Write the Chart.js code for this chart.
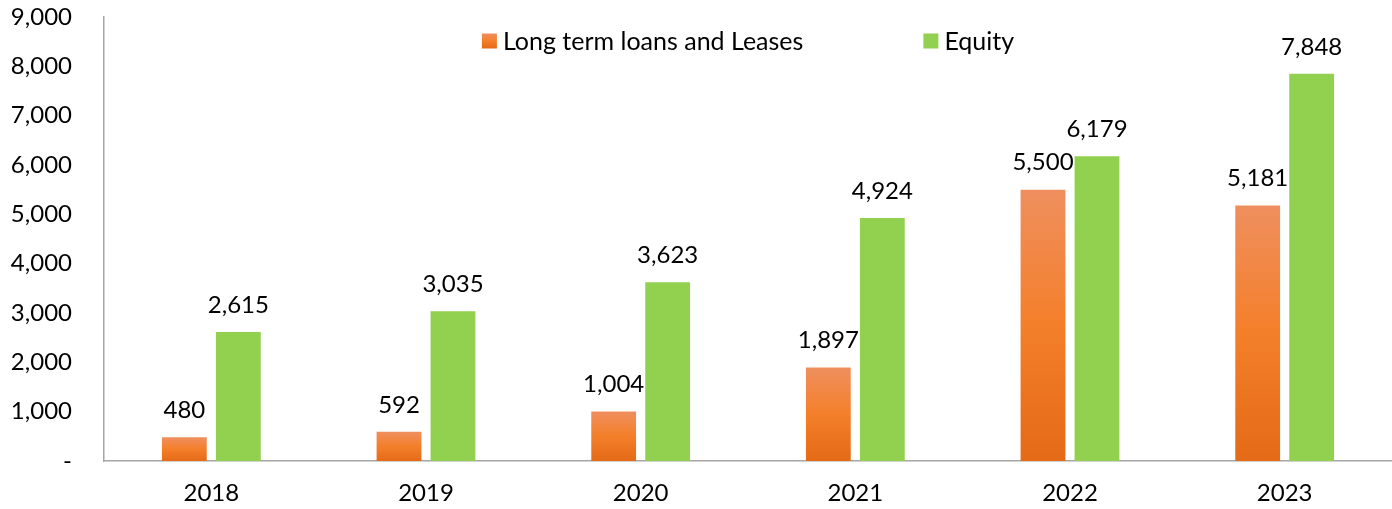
<!DOCTYPE html>
<html>
<head>
<meta charset="utf-8">
<script src="https://cdn.jsdelivr.net/npm/chart.js@4.4.0/dist/chart.umd.min.js"></script>
<style>
  html, body { margin: 0; padding: 0; background: #fff; }
  #wrap { width: 1392px; height: 509px; }
</style>
</head>
<body>
<div id="wrap"><canvas id="chart"></canvas></div>
<script>
// data
const years = ['2018', '2019', '2020', '2021', '2022', '2023'];
const loans = [480, 592, 1004, 1897, 5500, 5181];
const equity = [2615, 3035, 3623, 4924, 6179, 7848];
const seriesNames = ['Long term loans and Leases', 'Equity'];
const yMin = 0, yMax = 9000, yStep = 1000;

const FONT = 'Lato';
const FSIZE = 24;      // ticks + value labels
const LEGEND_SIZE = 25;
const green = '#92D050';

// orange bars fade from light on top to darker at the base
function orangeGradient(c, top, bottom) {
    const g = c.createLinearGradient(0, top, 0, bottom);
    g.addColorStop(0, '#EF8F5E');
    g.addColorStop(0.5, '#F47F2A');
    g.addColorStop(1, '#E46A17');
    return g;
}

function loanFill(ctx) {
    const chart = ctx.chart;
    if (!chart.chartArea || ctx.type !== 'data') return '#F47F2A';
    const y = chart.scales.y;
    return orangeGradient(chart.ctx, y.getPixelForValue(ctx.raw), y.getPixelForValue(0));
}

function fmt(v) {
    return v === 0 ? '-' : v.toLocaleString('en-US');
}

const barLabels = {
    id: 'barLabels',
    afterDatasetsDraw(chart) {
        const c = chart.ctx;
        c.save();
        c.font = FSIZE + 'px ' + FONT;
        c.fillStyle = '#000';
        c.textAlign = 'center';
        c.textBaseline = 'middle';
        chart.data.datasets.forEach((ds, i) => {
            chart.getDatasetMeta(i).data.forEach((bar, j) => {
                c.fillText(fmt(ds.data[j]), bar.x, bar.y - 27);
            });
        });
        c.restore();
    }
};

// legend sits inside the plot, centred at the top
const topLegend = {
    id: 'topLegend',
    afterDraw(chart) {
        const c = chart.ctx;
        const area = chart.chartArea;
        const box = 15, gap = 6, between = 120;
        c.save();
        c.font = LEGEND_SIZE + 'px ' + FONT;
        c.textBaseline = 'middle';
        c.textAlign = 'left';
        const widths = seriesNames.map(n => c.measureText(n).width);
        let total = 0;
        widths.forEach((w, i) => { total += box + gap + w + (i ? between : 0); });
        let x = (area.left + area.right) / 2 - total / 2;
        const yMid = area.top + 24;
        seriesNames.forEach((name, i) => {
            c.fillStyle = i === 0 ? orangeGradient(c, yMid - box / 2, yMid + box / 2) : green;
            c.fillRect(x, yMid - box / 2, box, box);
            c.fillStyle = '#000';
            c.fillText(name, x + box + gap, yMid + 1);
            x += box + gap + widths[i] + between;
        });
        c.restore();
    }
};

const data = {
    labels: years,
    datasets: [
        { label: seriesNames[0], data: loans, backgroundColor: loanFill },
        { label: seriesNames[1], data: equity, backgroundColor: green }
    ]
};

const config = {
    type: 'bar',
    data: data,
    options: {
        responsive: true,
        maintainAspectRatio: false,
        animation: false,
        categoryPercentage: 0.503,
        barPercentage: 0.83,
        layout: { padding: { top: 17, right: 0, left: 0, bottom: 0 } },
        plugins: {
            legend: { display: false },
            tooltip: { enabled: false }
        },
        scales: {
            x: {
                grid: { display: false },
                border: { display: true, color: '#A6A6A6', width: 1.5 },
                ticks: { color: '#000', font: { family: FONT, size: FSIZE }, padding: 10 },
                afterFit: s => { s.height = 48; s.paddingLeft = 0; s.paddingRight = 0; }
            },
            y: {
                min: yMin,
                max: yMax,
                grid: { display: false, drawTicks: false },
                border: { display: true, color: '#A6A6A6', width: 1.5 },
                ticks: {
                    stepSize: yStep,
                    color: '#000',
                    font: { family: FONT, size: FSIZE },
                    padding: 32,
                    callback: v => fmt(v)
                },
                afterFit: s => { s.width = 104; s.paddingTop = 0; s.paddingBottom = 0; }
            }
        }
    },
    plugins: [barLabels, topLegend]
};

new Chart(document.getElementById('chart').getContext('2d'), config);
</script>
</body>
</html>
